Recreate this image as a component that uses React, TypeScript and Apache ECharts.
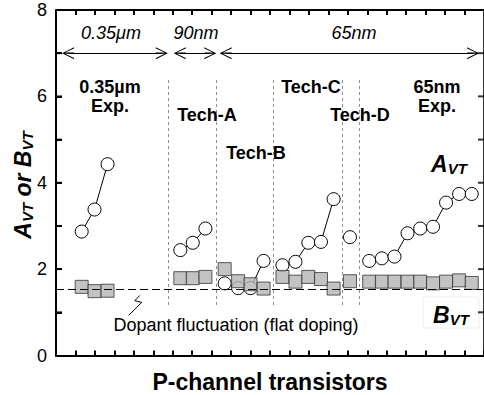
import React, { useEffect, useRef } from "react";
import * as echarts from "echarts";

const groupNames = ["0.35µm Exp.", "Tech-A", "Tech-B", "Tech-C", "Tech-D", "65nm Exp."];
const groupX = [
  [1.32, 1.98, 2.65],
  [6.39, 7.03, 7.68],
  [8.67, 9.36, 10.0, 10.67],
  [11.64, 12.31, 12.97, 13.62, 14.27],
  [15.11],
  [16.1, 16.75, 17.4, 18.07, 18.72, 19.38, 20.05, 20.72, 21.37],
];
const avtValues = [
  [2.87, 3.38, 4.43],
  [2.44, 2.61, 2.94],
  [1.67, 1.56, 1.56, 2.19],
  [2.09, 2.17, 2.61, 2.63, 3.62],
  [2.74],
  [2.19, 2.25, 2.29, 2.83, 2.94, 2.98, 3.54, 3.74, 3.74],
];
const bvtValues = [
  [1.59, 1.49, 1.5],
  [1.79, 1.79, 1.82],
  [2.0, 1.72, 1.65, 1.55],
  [1.82, 1.71, 1.82, 1.77, 1.55],
  [1.72],
  [1.71, 1.71, 1.71, 1.71, 1.71, 1.67, 1.71, 1.74, 1.68],
];
const flatDopingLevel = 1.54;
const separatorX = [5.76, 8.24, 11.19, 14.73, 15.59];
const separatorSpan = [1.17, 6.45];
const nodeLabels = ["0.35μm", "90nm", "65nm"];
const nodeSpans = [
  [0.62, 5.44],
  [6.36, 7.93],
  [8.72, 21.44],
];
const nodeArrowLevel = 7;
const squiggleX = [4.31, 4.05, 4.41, 3.74];
const squiggleY = [1.39, 1.27, 1.23, 0.93];
const xTickValues = [1, 2, 3, 4, 5, 6, 7, 8, 9, 10, 11, 12, 13, 14, 15, 16, 17, 18, 19, 20, 21];
const yTickValues = [1, 2, 3, 4, 5, 6, 7];
const yMin = 0;
const yMax = 8;
const xMin = 0;
const xMax = 22;

const FONT = "'Liberation Sans', Arial, Helvetica, sans-serif";
const CHEVRON =
  "path://M5,0 L10,10 L9,10 L5.5,2.6 L5.5,10 L4.5,10 L4.5,2.6 L1,10 L0,10 Z";

export default function App() {
  const ref = useRef<HTMLDivElement>(null);
  useEffect(() => {
    document.body.style.margin = "0";
    if (!ref.current) return;
    const chart = echarts.init(ref.current, undefined, { renderer: "svg" });

    const series: any[] = [];
    groupX.forEach((xs, gi) => {
      series.push({
        name: groupNames[gi] + " AVT",
        type: "line",
        data: xs.map((x, i) => [x, avtValues[gi][i]]),
        symbol: "circle",
        symbolSize: 13,
        lineStyle: { color: "#000", width: 1 },
        itemStyle: { color: "#fff", borderColor: "#000", borderWidth: 1 },
        z: 3,
      });
    });
    groupX.forEach((xs, gi) => {
      series.push({
        name: groupNames[gi] + " BVT",
        type: "scatter",
        data: xs.map((x, i) => [x, bvtValues[gi][i]]),
        symbol: "rect",
        symbolSize: 13,
        itemStyle: { color: "#b4b4b4", borderColor: "#333", borderWidth: 1 },
        z: 4,
      });
    });
    series.push({
      type: "line",
      data: [],
      silent: true,
      markLine: {
        silent: true,
        symbol: "none",
        label: { show: false },
        lineStyle: { color: "#8c8c8c", type: [3, 3], width: 1 },
        data: separatorX.map((x) => [
          { coord: [x, separatorSpan[0]] },
          { coord: [x, separatorSpan[1]] },
        ]),
      },
    });
    series.push({
      type: "line",
      data: [],
      silent: true,
      markLine: {
        silent: true,
        symbol: "none",
        label: { show: false },
        lineStyle: { color: "#000", type: [8, 4], width: 1 },
        data: [[{ coord: [xMin, flatDopingLevel] }, { coord: [xMax, flatDopingLevel] }]],
      },
      z: 2,
    });
    series.push({
      type: "line",
      data: [],
      silent: true,
      markLine: {
        silent: true,
        symbol: [CHEVRON, CHEVRON],
        symbolSize: [12, 12],
        label: { show: false },
        lineStyle: { color: "#000", type: "solid", width: 1 },
        itemStyle: { color: "#000" },
        data: nodeSpans.map((s) => [
          { coord: [s[0], nodeArrowLevel] },
          { coord: [s[1], nodeArrowLevel] },
        ]),
      },
    });
    // frame: top side and inward ticks on the top edge
    const xTickLen = 5 / 43.2;
    series.push({
      type: "line",
      data: [],
      silent: true,
      clip: false,
      markLine: {
        silent: true,
        symbol: "none",
        label: { show: false },
        lineStyle: { color: "#000", type: "solid", width: 2 },
        data: [
          [{ coord: [xMin, yMax] }, { coord: [xMax, yMax] }],
          ...xTickValues.map((v) => [{ coord: [v, yMax - xTickLen] }, { coord: [v, yMax] }]),
        ],
      },
      z: 5,
    });
    // vertical frame sides and their inward ticks, drawn as thin rect symbols
    const frameSymbol = {
      type: "scatter",
      silent: true,
      clip: false,
      symbol: "rect",
      itemStyle: { color: "#000", borderWidth: 0 },
      z: 20,
    };
    series.push({ ...frameSymbol, data: [[xMin, (yMin + yMax) / 2]], symbolSize: [2, 346] });
    series.push({ ...frameSymbol, data: [[xMax, (yMin + yMax) / 2]], symbolSize: [2, 346] });
    series.push({
      ...frameSymbol,
      data: yTickValues.map((v) => [xMin, v]),
      symbolSize: [6, 2],
      symbolOffset: [3, 0],
    });
    series.push({
      ...frameSymbol,
      data: yTickValues.map((v) => [xMax, v]),
      symbolSize: [6, 2],
      symbolOffset: [-3, 0],
    });
    series.push({
      type: "line",
      data: squiggleX.map((x, i) => [x, squiggleY[i]]),
      symbol: "none",
      silent: true,
      lineStyle: { color: "#000", width: 1 },
    });

    const txt = (text: string, x: number, y: number, extra: any = {}) => ({
      type: "text",
      x,
      y,
      style: {
        text,
        fill: "#000",
        fontFamily: FONT,
        align: "center",
        verticalAlign: "middle",
        ...extra,
      },
      z: 10,
    });

    const sub = (size: number, subSize: number) => ({
      m: { fontSize: size, fontWeight: "bold", fontStyle: "italic", fontFamily: FONT, lineHeight: size + 4, verticalAlign: "bottom" },
      s: { fontSize: subSize, fontWeight: "bold", fontStyle: "italic", fontFamily: FONT, lineHeight: subSize, verticalAlign: "bottom" },
      n: { fontSize: size, fontWeight: "bold", fontStyle: "italic", fontFamily: FONT, lineHeight: size + 4, verticalAlign: "bottom" },
    });

    const nodeLabelX = [111, 196, 354];

    chart.setOption({
      animation: false,
      grid: { left: 56, top: 10, width: 428, height: 345.5 },
      xAxis: {
        type: "value",
        min: xMin,
        max: xMax,
        interval: 1,
        axisLine: { show: true, onZero: false, lineStyle: { color: "#000", width: 2 } },
        axisTick: { show: true, inside: true, length: 5, lineStyle: { color: "#000", width: 2 } },
        axisLabel: { show: false },
        splitLine: { show: false },
      },
      yAxis: {
        type: "value",
        min: yMin,
        max: yMax,
        interval: 1,
        axisLine: { show: true, onZero: false, lineStyle: { color: "#000", width: 2 } },
        axisTick: { show: true, inside: true, length: 6, lineStyle: { color: "#000", width: 2 } },
        axisLabel: {
          show: true,
          formatter: (v: number) => (v % 2 === 0 ? String(v) : ""),
          color: "#000",
          fontSize: 18,
          fontFamily: FONT,
          margin: 9,
        },
        splitLine: { show: false },
      },
      series,
      graphic: [
        ...nodeLabels.map((t, i) => txt(t, nodeLabelX[i], 33, { fontSize: 18, fontStyle: "italic" })),
        txt("0.35µm\nExp.", 110, 96, { fontSize: 18, fontWeight: "bold", lineHeight: 19 }),
        txt("Tech-A", 207, 115, { fontSize: 18, fontWeight: "bold" }),
        txt("Tech-B", 256, 153, { fontSize: 18, fontWeight: "bold" }),
        txt("Tech-C", 311, 87, { fontSize: 18, fontWeight: "bold" }),
        txt("Tech-D", 360, 115, { fontSize: 18, fontWeight: "bold" }),
        txt("65nm\nExp.", 437, 96, { fontSize: 18, fontWeight: "bold", lineHeight: 19 }),
        txt("Dopant fluctuation (flat doping)", 236, 325, { fontSize: 18 }),
        txt("P-channel transistors", 270, 382, { fontSize: 23, fontWeight: "bold" }),
        txt("{m|A}{s|VT}", 449, 162, { rich: sub(23, 15) }),
        {
          type: "rect",
          shape: { x: 423, y: 297, width: 56, height: 31 },
          style: { fill: "#fff", stroke: "#eeeeee", lineWidth: 1 },
          z: 9,
        },
        txt("{m|B}{s|VT}", 451, 313, { rich: sub(23, 15) }),
        {
          ...txt("{m|A}{s|VT}{n| or }{m|B}{s|VT}", 0, 0, { rich: sub(23, 15) }),
          x: 21,
          y: 185,
          rotation: Math.PI / 2,
        },
      ],
    });
    return () => chart.dispose();
  }, []);
  return <div ref={ref} style={{ width: 484, height: 395 }} />;
}
